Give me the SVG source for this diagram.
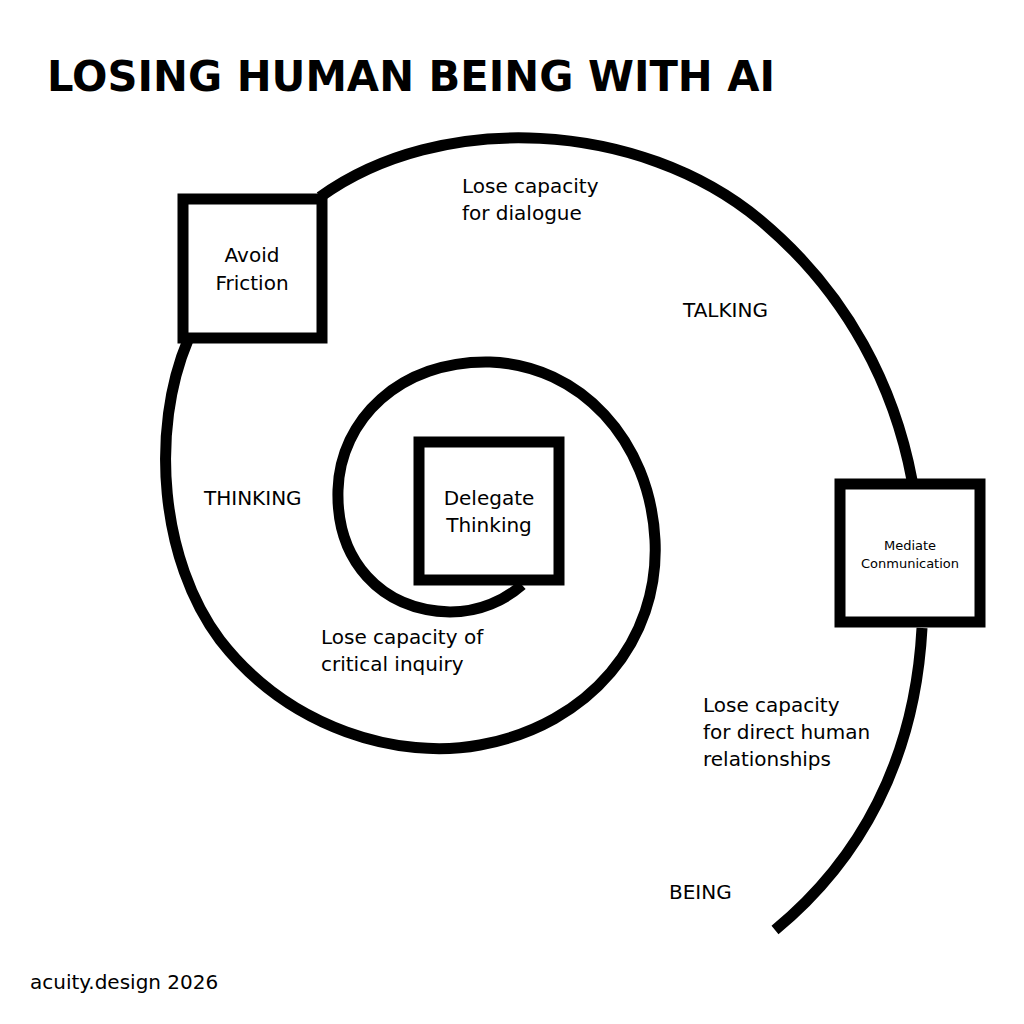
<svg xmlns="http://www.w3.org/2000/svg" width="1024" height="1024" viewBox="0 0 1024 1024">
<style>
.t{font-family:"DejaVu Sans","Liberation Sans",sans-serif;font-size:20px;fill:#000}
.c{fill:none;stroke:#000;stroke-width:11;stroke-linecap:butt}
.b{fill:#fff;stroke:#000;stroke-width:11}
</style>
<rect width="1024" height="1024" fill="#fff"/>
<text x="47" y="91" textLength="728" lengthAdjust="spacingAndGlyphs" style="font-family:'DejaVu Sans','Liberation Sans',sans-serif;font-weight:bold;font-size:42px">LOSING HUMAN BEING WITH AI</text>
<g id="connectors">
<path class="c" d="M320,197 C440,110 640,120 760,220 C850,295 895,390 912,480"/>
<path class="c" d="M922,628 C915,760 860,860 775,930"/>
<path class="c" d="M188,340 C150,430 160,560 220,640 C290,730 400,760 480,745 C590,725 660,640 655,540 C650,440 580,365 490,362 C400,360 340,420 338,490 C336,560 380,610 450,612 C480,612 505,600 522,585"/>
</g>
<g id="avoid"><rect class="b" x="183" y="199" width="139" height="139"/>
<text class="t" x="252" y="262" text-anchor="middle">Avoid</text><text class="t" x="252" y="290" text-anchor="middle">Friction</text></g>
<g id="delegate"><rect class="b" x="419" y="442" width="140" height="138"/>
<text class="t" x="489" y="505" text-anchor="middle">Delegate</text><text class="t" x="489" y="532" text-anchor="middle">Thinking</text></g>
<g id="mediate"><rect class="b" x="840" y="484" width="140" height="138"/>
<text class="t" x="910" y="550" text-anchor="middle" style="font-size:13px">Mediate</text><text class="t" x="910" y="568" text-anchor="middle" style="font-size:13px">Conmunication</text></g>
<g id="labels">
<text class="t" x="462" y="193">Lose capacity</text><text class="t" x="462" y="220">for dialogue</text>
<text class="t" x="683" y="317">TALKING</text>
<text class="t" x="204" y="505">THINKING</text>
<text class="t" x="321" y="644">Lose capacity of</text><text class="t" x="321" y="671">critical inquiry</text>
<text class="t" x="703" y="712">Lose capacity</text><text class="t" x="703" y="739">for direct human</text><text class="t" x="703" y="766">relationships</text>
<text class="t" x="669" y="899">BEING</text>
<text class="t" x="30" y="989">acuity.design 2026</text>
</g>
</svg>
